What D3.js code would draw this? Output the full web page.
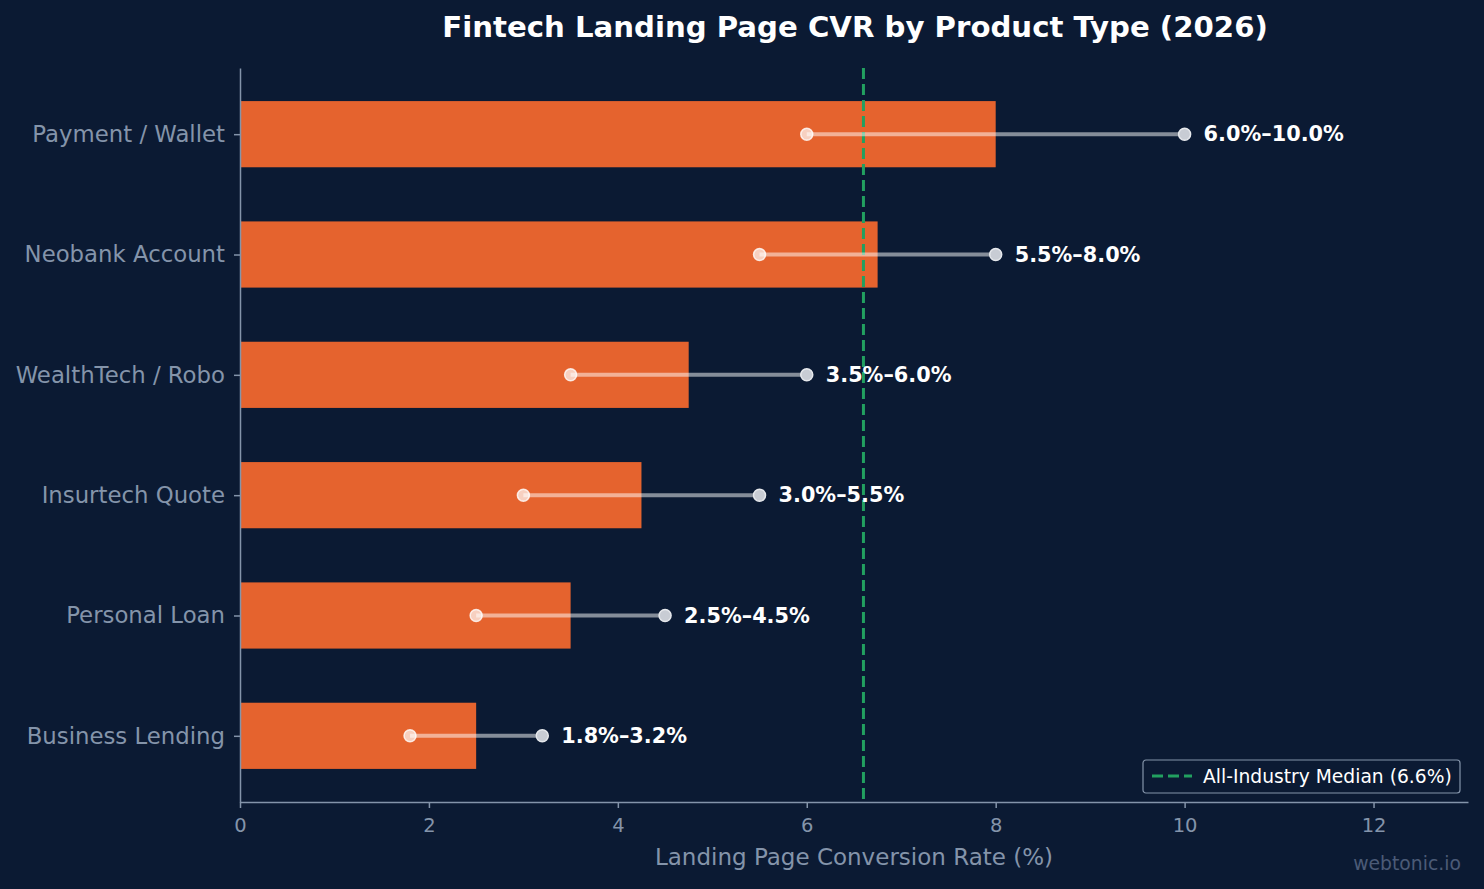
<!DOCTYPE html>
<meta charset="utf-8">
<script src="https://d3js.org/d3.v7.min.js"></script>
<style>
body { margin: 0; background: #0b1a33; }
text { font-family: "DejaVu Sans", sans-serif; }
</style>
<body>
<div id="chart"></div>
<script>

// data
const categories = ["Payment / Wallet", "Neobank Account", "WealthTech / Robo", "Insurtech Quote", "Personal Loan", "Business Lending"];
const midValues = [8.0, 6.75, 4.75, 4.25, 3.5, 2.5];
const lowValues = [6.0, 5.5, 3.5, 3.0, 2.5, 1.8];
const highValues = [10.0, 8.0, 6.0, 5.5, 4.5, 3.2];
const xTicks = [0, 2, 4, 6, 8, 10, 12];
const median = 6.6;

const W = 1484, H = 889;
const margin = {top: 68, right: 16, bottom: 87, left: 240};
const width = W - margin.left - margin.right,
      height = H - margin.top - margin.bottom;

const bg = "#0b1a33", axisCol = "#8494aa";

const svg = d3.select("#chart").append("svg")
    .attr("width", W).attr("height", H)
    .style("background", bg);

const g = svg.append("g")
    .attr("transform", `translate(${margin.left},${margin.top})`);

const x = d3.scaleLinear().domain([0, 13]).range([0, width]);
// matplotlib-style positions: index 0 at top, ylim [-0.55, 5.55]
const y = d3.scaleLinear().domain([-0.55, 5.55]).range([0, height]);
const barH = y(0.55) - y(0);

// bars
g.selectAll("rect.bar")
  .data(categories)
  .join("rect")
    .attr("class", "bar")
    .attr("x", x(0))
    .attr("y", (d, i) => y(i) - barH / 2)
    .attr("width", (d, i) => x(midValues[i]) - x(0))
    .attr("height", barH)
    .attr("fill", "#e5632e");

// median line
g.append("line")
    .attr("x1", x(median)).attr("x2", x(median))
    .attr("y1", 0).attr("y2", height)
    .attr("stroke", "#22a060")
    .attr("stroke-width", 3)
    .attr("stroke-dasharray", "11,5");

// range lines
g.selectAll("line.range")
  .data(categories)
  .join("line")
    .attr("class", "range")
    .attr("x1", (d, i) => x(lowValues[i]))
    .attr("x2", (d, i) => x(highValues[i]))
    .attr("y1", (d, i) => y(i))
    .attr("y2", (d, i) => y(i))
    .attr("stroke", "#ffffff")
    .attr("stroke-opacity", 0.5)
    .attr("stroke-width", 4);

g.selectAll("circle.low")
  .data(categories)
  .join("circle")
    .attr("class", "low")
    .attr("cx", (d, i) => x(lowValues[i]))
    .attr("cy", (d, i) => y(i))
    .attr("r", 6)
    .attr("fill", "#ffffff")
    .attr("fill-opacity", 0.7)
    .attr("stroke", "#ffffff")
    .attr("stroke-opacity", 0.8)
    .attr("stroke-width", 1.5);

g.selectAll("circle.high")
  .data(categories)
  .join("circle")
    .attr("class", "high")
    .attr("cx", (d, i) => x(highValues[i]))
    .attr("cy", (d, i) => y(i))
    .attr("r", 6)
    .attr("fill", "#c8ccd4")
    .attr("stroke", "#e6e8ec")
    .attr("stroke-width", 1.5);

g.selectAll("text.rlabel")
  .data(categories)
  .join("text")
    .attr("class", "rlabel")
    .attr("x", (d, i) => x(highValues[i]) + 19)
    .attr("y", (d, i) => y(i))
    .attr("dy", "0.35em")
    .attr("fill", "#ffffff")
    .attr("font-size", 20.8)
    .attr("font-weight", "bold")
    .text((d, i) => `${lowValues[i].toFixed(1)}%–${highValues[i].toFixed(1)}%`);

// axes
const xAxis = g.append("g")
    .attr("transform", `translate(0,${height})`)
    .call(d3.axisBottom(x).tickValues(xTicks).tickFormat(d3.format("d")).tickSize(6).tickSizeOuter(0).tickPadding(10));
xAxis.selectAll("text").attr("font-size", 19.5).attr("fill", axisCol).style("font-family", "DejaVu Sans");

const yAxis = g.append("g")
    .call(d3.axisLeft(y).tickValues(d3.range(categories.length)).tickFormat(i => categories[i]).tickSize(6).tickSizeOuter(0).tickPadding(9));
yAxis.selectAll("text").attr("font-size", 22.8).attr("fill", axisCol).style("font-family", "DejaVu Sans");

[xAxis, yAxis].forEach(a => {
  a.select(".domain").attr("stroke", axisCol).attr("stroke-width", 1.5);
  a.selectAll(".tick line").attr("stroke", axisCol).attr("stroke-width", 1.5);
});

// x label
svg.append("text")
    .attr("x", margin.left + x(6.5))
    .attr("y", 865)
    .attr("text-anchor", "middle")
    .attr("font-size", 23)
    .attr("fill", axisCol)
    .text("Landing Page Conversion Rate (%)");

// title
svg.append("text")
    .attr("x", 855)
    .attr("y", 37)
    .attr("text-anchor", "middle")
    .attr("font-size", 29.2)
    .attr("font-weight", "bold")
    .attr("fill", "#ffffff")
    .text("Fintech Landing Page CVR by Product Type (2026)");

// legend
const lg = svg.append("g").attr("transform", "translate(1143,760)");
lg.append("rect")
    .attr("width", 317).attr("height", 33).attr("rx", 3)
    .attr("fill", bg)
    .attr("stroke", axisCol)
    .attr("stroke-width", 1.2);
lg.append("line")
    .attr("x1", 9).attr("x2", 49).attr("y1", 16).attr("y2", 16)
    .attr("stroke", "#22a060").attr("stroke-width", 3)
    .attr("stroke-dasharray", "11,5");
lg.append("text")
    .attr("x", 60).attr("y", 16).attr("dy", "0.35em")
    .attr("font-size", 18.7).attr("fill", "#ffffff")
    .text(`All-Industry Median (${median}%)`);

// watermark
svg.append("text")
    .attr("x", 1461).attr("y", 870)
    .attr("text-anchor", "end")
    .attr("font-size", 18.8)
    .attr("fill", "#4b5b77")
    .text("webtonic.io");

</script>
</body>
